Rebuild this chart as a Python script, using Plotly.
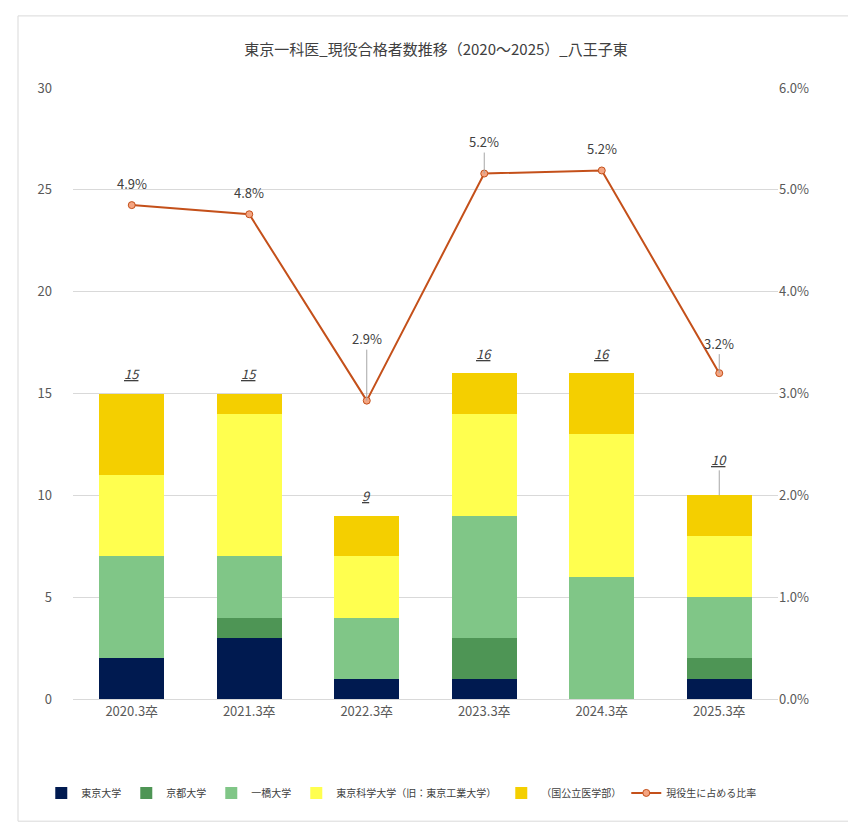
import plotly.graph_objects as go

years = ["2020.3卒", "2021.3卒", "2022.3卒", "2023.3卒", "2024.3卒", "2025.3卒"]
tokyo = [2, 3, 1, 1, 0, 1]
kyoto = [0, 1, 0, 2, 0, 1]
hitotsubashi = [5, 3, 3, 6, 6, 3]
science_tokyo = [4, 7, 3, 5, 7, 3]
public_med = [4, 1, 2, 2, 3, 2]
totals = [15, 15, 9, 16, 16, 10]
ratio = [0.0485, 0.0476, 0.0293, 0.0516, 0.0519, 0.032]

series = [
    ("東京大学", tokyo, "#001A50"),
    ("京都大学", kyoto, "#4E9555"),
    ("一橋大学", hitotsubashi, "#80C687"),
    ("東京科学大学（旧：東京工業大学）", science_tokyo, "#FFFF4F"),
    ("（国公立医学部）", public_med, "#F4CF00"),
]

fig = go.Figure()
for name, vals, color in series:
    fig.add_trace(go.Bar(x=years, y=vals, name=name, marker_color=color, width=0.55,
                         marker_line_width=0))

fig.add_trace(go.Scatter(
    x=years, y=ratio, name="現役生に占める比率", yaxis="y2", mode="lines+markers",
    line=dict(color="#C4501A", width=2),
    marker=dict(size=7, color="#F4A582", line=dict(color="#C4501A", width=1)),
))

# total labels
tot_lines = [False, False, False, False, False, True]
for x, t, ln in zip(years, totals, tot_lines):
    fig.add_annotation(x=x, y=t, text=f"<i><u>{t}</u></i>", showarrow=True,
                       arrowhead=0, ax=0, ay=-36 if ln else -20,
                       arrowcolor="#A6A6A6" if ln else "rgba(0,0,0,0)",
                       font=dict(size=13, color="#404040"))

# ratio labels
rat_lines = [False, False, True, True, False, True]
rat_ay = [-22, -22, -62, -32, -22, -30]
for x, r, ln, ay in zip(years, ratio, rat_lines, rat_ay):
    fig.add_annotation(x=x, y=r, yref="y2", text=f"{r*100:.1f}%", showarrow=True,
                       arrowhead=0, ax=0, ay=ay,
                       arrowcolor="#A6A6A6" if ln else "rgba(0,0,0,0)",
                       font=dict(size=13, color="#404040"))

fig.add_shape(type="rect", xref="paper", yref="paper", x0=-0.078, x1=1.108,
              y0=-0.200, y1=1.118, line=dict(color="#D9D9D9", width=1))

fig.update_layout(
    width=856, height=822, barmode="stack", plot_bgcolor="white", paper_bgcolor="white",
    margin=dict(l=65, r=86, t=80, b=131),
    font=dict(family="Noto Sans CJK JP", color="#595959"),
    title=dict(text="東京一科医_現役合格者数推移（2020～2025）_八王子東", x=0.5, y=0.955,
               xanchor="center", font=dict(size=15, color="#404040")),
    xaxis=dict(tickfont=dict(size=13), showline=True, linecolor="#D9D9D9"),
    yaxis=dict(range=[0, 30], dtick=5, gridcolor="#D9D9D9", tickfont=dict(size=13),
               zeroline=False, ticklabelstandoff=20),
    yaxis2=dict(range=[0, 0.06], dtick=0.01, tickformat=".1%", overlaying="y", side="right",
                showgrid=False, tickfont=dict(size=13), zeroline=False),
    legend=dict(orientation="h", x=-0.045, xanchor="left", y=-0.13, yanchor="top",
                traceorder="normal", font=dict(size=10, color="#404040"), itemwidth=30,
                tracegroupgap=0),
)

fig.write_html("out.html")
